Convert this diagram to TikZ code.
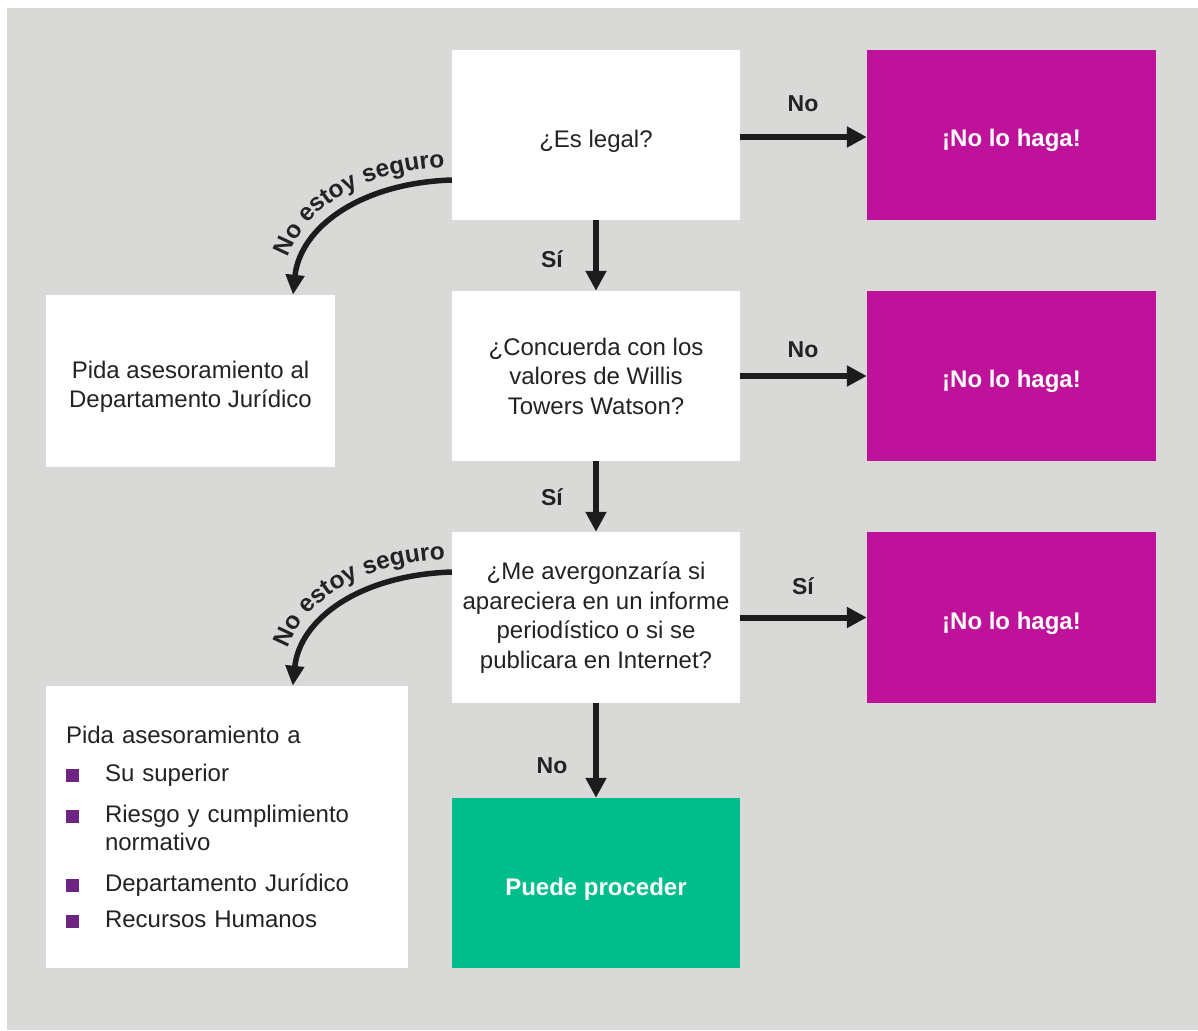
\documentclass[tikz,border=0pt]{standalone}
\usepackage{fontspec}
\setmainfont{Liberation Sans}
\usetikzlibrary{arrows.meta,decorations.text,calc}
\definecolor{bg}{RGB}{217,218,216}
\definecolor{mag}{RGB}{190,18,155}
\definecolor{grn}{RGB}{0,190,140}
\definecolor{bulc}{RGB}{110,36,130}
\definecolor{ink}{RGB}{35,35,35}
\definecolor{arrc}{RGB}{28,28,28}
\newcommand\bulitem{\makebox[39pt][l]{\textcolor{bulc}{\rule{12.5pt}{12.5pt}}}}
\newcommand\topstrut{\rule{0pt}{29pt}}
\begin{document}
\begin{tikzpicture}[x=1pt,y=-1pt,
  box/.style={draw=none, fill=white, minimum width=288pt, minimum height=170pt, inner sep=0pt, align=center, font=\fontsize{24}{29.5}\selectfont, text=ink},
  stopbox/.style={box, fill=mag, text=white, minimum width=289pt, font=\bfseries\fontsize{24}{29}\selectfont},
  gobox/.style={box, fill=grn, text=white, font=\bfseries\fontsize{24}{29}\selectfont},
  lbl/.style={inner sep=0pt, text=ink, font=\bfseries\fontsize{23}{23}\selectfont, anchor=base},
  flow/.style={draw=arrc, line width=6pt, -{Triangle[length=20pt,width=20pt]}},
  bendarrow/.style={draw=arrc, line width=5.5pt, -{Triangle[length=20pt,width=18pt]}},
  curvetext/.style={decorate, decoration={text along path, raise=0pt,
      text align={left, left indent=35pt}, text color=ink,
      text={|\bfseries\fontsize{24.5}{24.5}\selectfont|No estoy seguro}}}
]
\useasboundingbox (0,0) rectangle (1198,1030);
\fill[white] (0,0) rectangle (1198,1030);
\fill[bg] (7,8) rectangle (1198,1030);

% decision boxes
\node[box] (q1) at (596,135) {\topstrut¿Es legal?};
\node[box] (q2) at (596,376) {¿Concuerda con los\\valores de Willis\\Towers Watson?};
\node[box, minimum height=171pt] (q3) at (596,617.5) {¿Me avergonzaría si\\apareciera en un informe\\periodístico o si se\\publicara en Internet?};
\node[gobox] (ok) at (596,883) {\topstrut Puede proceder};

% stop boxes
\node[stopbox] (m1) at (1011.5,135) {\topstrut¡No lo haga!};
\node[stopbox] (m2) at (1011.5,376) {\topstrut¡No lo haga!};
\node[stopbox, minimum height=171pt] (m3) at (1011.5,617.5) {\topstrut¡No lo haga!};

% advice boxes
\node[box, minimum width=289pt, minimum height=172pt] (L1) at (190.5,381) {\topstrut Pida asesoramiento al\\Departamento Jurídico};
\node[box, minimum width=362pt, minimum height=282pt, text width=322pt, inner xsep=20pt, align=left,
      font=\fontsize{24}{28}\selectfont] (L2) at (227,827)
  {Pida asesoramiento a\\[10pt]
   \bulitem Su superior\\[13pt]
   \bulitem Riesgo y cumplimiento\\
   \hspace*{39pt}normativo\\[13pt]
   \bulitem Departamento Jurídico\\[8pt]
   \bulitem Recursos Humanos};

% straight connectors
\draw[flow] (q1) -- (q2);
\draw[flow] (q2) -- (q3);
\draw[flow] (q3) -- (ok);
\draw[flow] (q1.east |- 0,137) -- (m1.west |- 0,137);
\draw[flow] (q2) -- (m2);
\draw[flow] (q3) -- (m3);

% labels
\node[lbl] (s1) at (552,267) {Sí};
\node[lbl] (s2) at (552,505) {Sí};
\node[lbl] (n3) at (552,773) {No};
\node[lbl] (n1) at (803,112) {No};
\node[lbl] (n2) at (803,357) {No};
\node[lbl] (s3) at (803,594) {Sí};

% curved connectors
\draw[bendarrow] ([yshift=-45pt]q1.west) .. controls +(-92,3) and +(7,-67) .. ([xshift=102.5pt]L1.north);
\path[curvetext] ([xshift=89.5pt,yshift=3pt]L1.north) .. controls +(7,-77) and +(-97,3) .. ([yshift=-32pt]q1.west);

\draw[bendarrow] ([yshift=45.5pt]q3.west) .. controls +(-92,3) and +(7,-67) .. ([xshift=247pt]L2.north west);
\path[curvetext] ([xshift=234pt,yshift=3pt]L2.north west) .. controls +(7,-77) and +(-97,3) .. ([yshift=58.5pt]q3.west);
\end{tikzpicture}
\end{document}
